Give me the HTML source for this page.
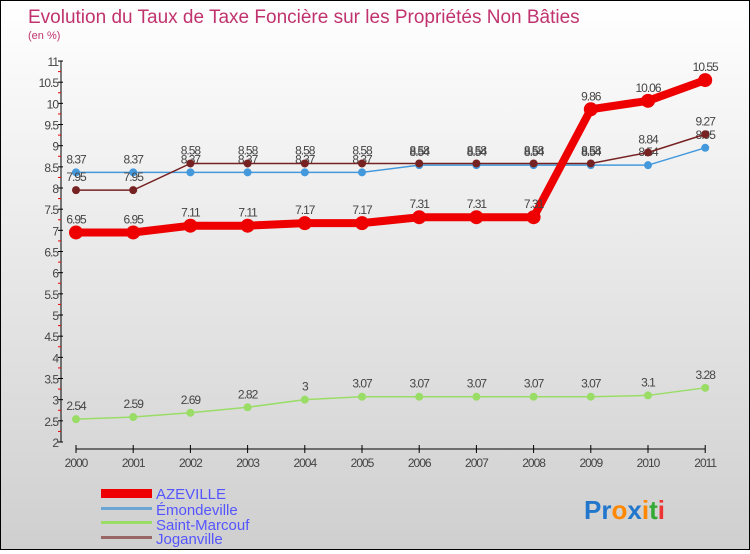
<!DOCTYPE html>
<html><head><meta charset="utf-8"><style>
body{margin:0;width:750px;height:550px;overflow:hidden;font-family:"Liberation Sans",sans-serif}
#wrap{position:relative;width:748px;height:548px;border:1px solid #000;background:linear-gradient(#ffffff,#cfcfcf)}
</style></head><body>
<div id="wrap">
<svg id="chart" width="748" height="548">
<text x="27" y="22" font-size="19" fill="#c0336e">Evolution du Taux de Taxe Foncière sur les Propriétés Non Bâties</text>
<text x="27" y="38" font-size="11" fill="#c0336e">(en %)</text>
<g id="axes"></g><g id="series"></g>
<g>
<rect x="100" y="488" width="51" height="9" fill="#ee0000"/>
<rect x="100" y="506" width="51" height="3" fill="#6aa6d6"/>
<rect x="100" y="520" width="51" height="3" fill="#99dd66"/>
<rect x="100" y="535" width="51" height="3" fill="#996666"/>
<text x="155" y="498" font-size="15" fill="#5555ff">AZEVILLE</text>
<text x="155" y="514" font-size="15" fill="#5555ff">Émondeville</text>
<text x="155" y="529" font-size="15" fill="#5555ff">Saint-Marcouf</text>
<text x="155" y="543" font-size="15" fill="#5555ff">Joganville</text>
</g>
<text x="583" y="518" font-size="26" font-weight="bold"><tspan fill="#2277cc">Pr</tspan><tspan fill="#ff8800">o</tspan><tspan fill="#2277cc">x</tspan><tspan fill="#ff8800">i</tspan><tspan fill="#33aa33">t</tspan><tspan fill="#ee3333">i</tspan></text>
</svg></div>
<script>
const years=["2000","2001","2002","2003","2004","2005","2006","2007","2008","2009","2010","2011"];
const yTicks=[2,2.5,3,3.5,4,4.5,5,5.5,6,6.5,7,7.5,8,8.5,9,9.5,10,10.5,11];
const azeville=[6.95,6.95,7.11,7.11,7.17,7.17,7.31,7.31,7.31,9.86,10.06,10.55];
const emondeville=[8.37,8.37,8.37,8.37,8.37,8.37,8.54,8.54,8.54,8.54,8.54,8.95];
const saintMarcouf=[2.54,2.59,2.69,2.82,3,3.07,3.07,3.07,3.07,3.07,3.1,3.28];
const joganville=[7.95,7.95,8.58,8.58,8.58,8.58,8.58,8.58,8.58,8.58,8.84,9.27];
const NS="http://www.w3.org/2000/svg";
const X=i=>75+i*57.2, Y=v=>441-(v-2)*42.33;
function mk(t,a,p,name){const e=document.createElementNS(NS,t);for(const k in a)e.setAttribute(k,a[k]);


p.appendChild(e);return e;}
const ax=document.getElementById('axes'),se=document.getElementById('series');
mk('line',{x1:60,y1:Y(11),x2:60,y2:Y(2),stroke:'#000'},ax,'y-axis');
mk('line',{x1:75,y1:448,x2:X(11),y2:448,stroke:'#000'},ax,'x-axis');
yTicks.forEach(v=>{mk('line',{x1:57,y1:Y(v),x2:62,y2:Y(v),stroke:'#000'},ax,'y-tick');
const t=mk('text',{x:57,y:Y(v)+5,'font-size':12,'text-anchor':'end',fill:'#444','letter-spacing':'-1'},ax,'y-tick-label');t.textContent=v;
if(v<11)mk('line',{x1:57,y1:Y(v+0.25),x2:60,y2:Y(v+0.25),stroke:'#e00'},ax,'y-minor-tick');});
years.forEach((y,i)=>{mk('line',{x1:X(i),y1:444,x2:X(i),y2:452,stroke:'#000'},ax,'x-tick');
const t=mk('text',{x:X(i),y:466,'font-size':12,'text-anchor':'middle',fill:'#444','letter-spacing':'-1'},ax,'x-tick-label');t.textContent=y;});
function draw(data,color,w,r,name){
mk('polyline',{points:data.map((v,i)=>X(i)+','+Y(v)).join(' '),fill:'none',stroke:color,'stroke-width':w},se,name+'-line');
data.forEach((v,i)=>{mk('circle',{cx:X(i),cy:Y(v),r:r,fill:color},se,name+'-point');
const t=mk('text',{x:X(i),y:Y(v)-9,'font-size':12,'text-anchor':'middle',fill:'#444','letter-spacing':'-1'},se,name+'-value-label');t.textContent=v;});}
draw(saintMarcouf,'#99dd66',1.5,4,'saint-marcouf');
draw(emondeville,'#4499dd',1.5,4,'emondeville');
draw(joganville,'#772222',1.5,4,'joganville');
draw(azeville,'#ee0000',8,7,'azeville');
</script></body></html>
